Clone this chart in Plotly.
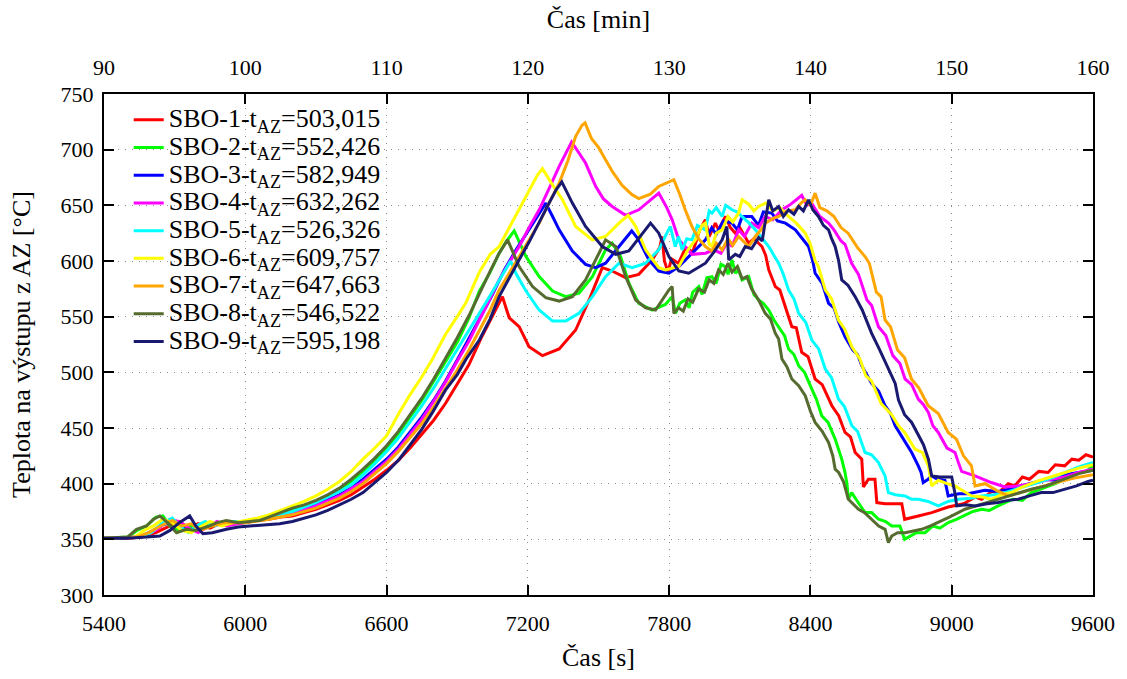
import plotly.graph_objects as go

# Outlet temperature of the core (AZ) for nine SBO scenarios
LABELS = [
    "SBO-1-t<sub>AZ</sub>=503,015",
    "SBO-2-t<sub>AZ</sub>=552,426",
    "SBO-3-t<sub>AZ</sub>=582,949",
    "SBO-4-t<sub>AZ</sub>=632,262",
    "SBO-5-t<sub>AZ</sub>=526,326",
    "SBO-6-t<sub>AZ</sub>=609,757",
    "SBO-7-t<sub>AZ</sub>=647,663",
    "SBO-8-t<sub>AZ</sub>=546,522",
    "SBO-9-t<sub>AZ</sub>=595,198",
]
COLORS = ["#ff0000", "#00ff00", "#0000ff", "#ff00ff", "#00ffff",
          "#ffff00", "#ffa500", "#556b2f", "#191970"]

SBO1_T = [5400, 5500, 5560, 5620, 5680, 5720, 5760, 5800, 5850, 5900, 5950, 6000, 6050, 6100, 6150, 6200, 6250, 6300, 6350, 6400, 6450, 6500, 6550, 6600, 6650, 6700, 6750, 6800, 6850, 6900, 6950, 7000, 7050, 7092, 7110, 7121, 7163, 7205, 7262, 7333, 7403, 7460, 7516, 7558, 7615, 7671, 7728, 7760, 7770, 7780, 7795, 7810, 7840, 7870, 7900, 7930, 7954, 7970, 7996, 8010, 8039, 8060, 8081, 8100, 8138, 8160, 8194, 8210, 8223, 8251, 8270, 8293, 8321, 8340, 8363, 8390, 8420, 8450, 8491, 8520, 8547, 8570, 8590, 8618, 8625, 8646, 8674, 8682, 8717, 8788, 8800, 8858, 8915, 8985, 9050, 9100, 9127, 9170, 9200, 9240, 9268, 9300, 9330, 9370, 9409, 9440, 9480, 9510, 9540, 9570, 9600]
SBO1_V = [351, 351, 352, 356, 362, 366, 360, 364, 360, 365, 364, 365, 367, 368, 370, 371, 374, 377, 381, 385, 390, 397, 404, 412, 421, 432, 444, 457, 472, 489, 507, 530, 551, 568, 556, 549, 541, 523, 515, 521, 538, 565, 594, 591, 585, 588, 601, 612, 622, 600, 590, 602, 598, 612, 608, 628, 637, 622, 634, 628, 640, 630, 625, 630, 616, 620, 613, 605, 592, 577, 574, 559, 541, 540, 518, 514, 494, 489, 470, 461, 446, 442, 428, 422, 397, 404, 404, 383, 382, 382, 368, 371, 374, 379, 382, 388, 386, 393, 392, 400, 398, 406, 404, 411, 410, 417, 416, 422, 421, 426, 424]

SBO2_T = [5400, 5500, 5540, 5580, 5620, 5650, 5680, 5720, 5760, 5800, 5850, 5900, 5950, 6000, 6050, 6100, 6150, 6200, 6250, 6300, 6350, 6400, 6450, 6500, 6550, 6600, 6650, 6700, 6750, 6800, 6850, 6900, 6950, 6994, 7040, 7078, 7110, 7142, 7192, 7248, 7305, 7361, 7417, 7474, 7530, 7558, 7594, 7629, 7671, 7728, 7784, 7813, 7827, 7845, 7869, 7885, 7900, 7926, 7940, 7960, 7982, 8000, 8020, 8038, 8050, 8067, 8081, 8095, 8110, 8138, 8160, 8180, 8200, 8223, 8245, 8265, 8290, 8307, 8330, 8350, 8375, 8406, 8425, 8448, 8475, 8505, 8520, 8533, 8547, 8555, 8561, 8575, 8600, 8632, 8660, 8689, 8720, 8745, 8780, 8800, 8816, 8850, 8887, 8920, 8950, 8985, 9020, 9050, 9090, 9127, 9160, 9197, 9260, 9300, 9338, 9400, 9440, 9480, 9540, 9570, 9600]
SBO2_V = [351, 352, 358, 362, 370, 371, 362, 358, 362, 360, 364, 364, 366, 365, 368, 370, 373, 376, 380, 384, 389, 395, 402, 411, 421, 432, 445, 460, 475, 492, 509, 527, 549, 573, 590, 607, 618, 627, 604, 586, 573, 568, 571, 586, 610, 616, 604, 580, 562, 556, 561, 568, 553, 562, 565, 558, 572, 577, 570, 585, 586, 580, 597, 595, 588, 601, 589, 592, 583, 586, 570, 565, 562, 556, 547, 541, 533, 521, 516, 506, 500, 485, 476, 461, 455, 440, 431, 422, 410, 400, 386, 392, 384, 374, 374, 368, 366, 362, 362, 350, 352, 356, 356, 362, 360, 365, 368, 371, 375, 377, 376, 380, 386, 385, 392, 397, 400, 404, 410, 411, 416]

SBO3_T = [5400, 5550, 5600, 5650, 5700, 5740, 5790, 5850, 5900, 6000, 6100, 6200, 6300, 6400, 6450, 6500, 6550, 6600, 6650, 6700, 6750, 6800, 6850, 6900, 6950, 7000, 7050, 7100, 7150, 7200, 7233, 7276, 7305, 7333, 7389, 7445, 7488, 7530, 7587, 7641, 7671, 7714, 7756, 7799, 7841, 7897, 7954, 7981, 8000, 8030, 8067, 8090, 8110, 8151, 8180, 8200, 8236, 8260, 8294, 8336, 8360, 8392, 8410, 8420, 8450, 8477, 8500, 8520, 8547, 8580, 8600, 8618, 8660, 8690, 8717, 8740, 8760, 8802, 8830, 8858, 8870, 8879, 8900, 8915, 8940, 8971, 8985, 9030, 9070, 9141, 9200, 9260, 9330, 9400, 9440, 9480, 9540, 9600]
SBO3_V = [351, 352, 357, 363, 366, 360, 358, 362, 364, 365, 369, 373, 381, 390, 396, 404, 413, 422, 433, 446, 460, 475, 492, 511, 530, 550, 570, 592, 610, 627, 637, 652, 640, 628, 609, 597, 594, 598, 613, 627, 619, 601, 591, 589, 595, 607, 619, 630, 624, 636, 634, 628, 640, 640, 632, 644, 643, 636, 634, 628, 622, 613, 600, 589, 580, 562, 558, 545, 532, 520, 516, 506, 490, 483, 470, 463, 452, 437, 428, 416, 410, 401, 404, 407, 404, 403, 389, 391, 391, 394, 393, 396, 400, 404, 403, 408, 410, 412]

SBO4_T = [5400, 5550, 5620, 5680, 5720, 5760, 5800, 5850, 5880, 5920, 6000, 6100, 6200, 6300, 6400, 6500, 6550, 6600, 6650, 6700, 6750, 6800, 6850, 6900, 6950, 6994, 7040, 7078, 7120, 7163, 7205, 7248, 7290, 7333, 7386, 7445, 7488, 7520, 7558, 7615, 7671, 7720, 7756, 7790, 7813, 7841, 7855, 7897, 7954, 7990, 8020, 8050, 8067, 8095, 8120, 8151, 8180, 8208, 8240, 8279, 8310, 8340, 8363, 8385, 8405, 8440, 8477, 8500, 8530, 8547, 8575, 8604, 8640, 8660, 8689, 8720, 8750, 8780, 8802, 8830, 8858, 8880, 8901, 8920, 8943, 8980, 9014, 9030, 9042, 9070, 9099, 9168, 9226, 9280, 9340, 9400, 9480, 9540, 9600]
SBO4_V = [351, 352, 358, 368, 366, 360, 356, 362, 366, 362, 365, 369, 373, 380, 389, 402, 411, 420, 431, 444, 458, 474, 491, 510, 528, 547, 566, 583, 598, 613, 630, 646, 665, 685, 707, 688, 667, 656, 649, 641, 646, 655, 661, 648, 637, 619, 616, 606, 607, 610, 607, 618, 613, 628, 622, 634, 630, 640, 637, 646, 650, 655, 659, 650, 652, 640, 634, 628, 618, 615, 598, 588, 565, 560, 541, 533, 515, 508, 494, 489, 476, 471, 464, 452, 446, 432, 428, 418, 411, 409, 407, 401, 397, 398, 400, 403, 406, 410, 413]

SBO5_T = [5400, 5550, 5600, 5650, 5690, 5720, 5760, 5790, 5830, 5870, 5920, 6000, 6100, 6200, 6300, 6400, 6450, 6500, 6550, 6600, 6650, 6700, 6750, 6800, 6850, 6900, 6950, 6994, 7040, 7078, 7110, 7127, 7149, 7192, 7248, 7305, 7361, 7417, 7474, 7530, 7587, 7643, 7700, 7756, 7790, 7805, 7826, 7840, 7855, 7875, 7897, 7920, 7954, 7970, 7982, 8000, 8025, 8040, 8067, 8090, 8109, 8140, 8166, 8195, 8223, 8245, 8265, 8285, 8307, 8330, 8350, 8380, 8406, 8435, 8463, 8490, 8519, 8545, 8576, 8600, 8632, 8660, 8689, 8705, 8717, 8731, 8760, 8802, 8830, 8858, 8900, 8943, 8985, 9028, 9080, 9127, 9180, 9226, 9300, 9350, 9409, 9480, 9540, 9600]
SBO5_V = [351, 352, 356, 365, 369, 362, 356, 362, 366, 362, 366, 366, 370, 375, 383, 393, 399, 408, 418, 429, 441, 455, 470, 486, 503, 521, 538, 553, 569, 583, 595, 600, 589, 573, 556, 546, 546, 553, 568, 586, 598, 594, 598, 610, 625, 631, 613, 622, 610, 620, 619, 632, 628, 645, 643, 648, 640, 650, 646, 644, 640, 634, 628, 620, 613, 605, 598, 588, 574, 566, 553, 545, 529, 521, 503, 495, 476, 469, 452, 447, 428, 426, 419, 412, 407, 392, 390, 389, 386, 386, 384, 380, 384, 386, 387, 389, 390, 392, 397, 400, 404, 410, 415, 419]

SBO6_T = [5400, 5530, 5570, 5610, 5650, 5690, 5730, 5770, 5800, 5850, 5900, 5950, 6000, 6050, 6100, 6150, 6200, 6250, 6300, 6350, 6400, 6450, 6500, 6550, 6600, 6654, 6700, 6750, 6795, 6850, 6900, 6938, 6994, 7040, 7078, 7120, 7163, 7205, 7240, 7262, 7300, 7347, 7403, 7474, 7530, 7587, 7626, 7658, 7700, 7756, 7784, 7841, 7880, 7912, 7940, 7954, 7970, 7982, 8000, 8025, 8050, 8070, 8095, 8110, 8138, 8160, 8180, 8210, 8240, 8270, 8307, 8340, 8378, 8400, 8420, 8434, 8463, 8490, 8519, 8545, 8576, 8610, 8635, 8660, 8700, 8745, 8774, 8800, 8844, 8875, 8901, 8915, 8943, 8980, 9014, 9050, 9084, 9130, 9168, 9210, 9253, 9300, 9360, 9420, 9480, 9540, 9600]
SBO6_V = [351, 352, 358, 362, 368, 365, 358, 356, 360, 366, 362, 365, 367, 369, 372, 376, 380, 384, 389, 395, 402, 411, 422, 432, 443, 464, 480, 496, 512, 534, 550, 563, 590, 606, 613, 630, 646, 663, 677, 683, 670, 655, 631, 619, 622, 634, 641, 631, 610, 594, 592, 595, 610, 619, 632, 634, 615, 613, 625, 628, 640, 635, 643, 655, 651, 645, 649, 652, 645, 648, 640, 634, 625, 615, 600, 595, 574, 566, 547, 539, 523, 512, 497, 492, 472, 462, 452, 446, 431, 428, 416, 398, 403, 400, 398, 393, 389, 388, 386, 390, 392, 397, 402, 406, 410, 414, 417]

SBO7_T = [5400, 5540, 5590, 5640, 5690, 5730, 5770, 5810, 5860, 5910, 6000, 6100, 6200, 6300, 6400, 6450, 6500, 6550, 6600, 6650, 6700, 6750, 6800, 6850, 6900, 6950, 6994, 7040, 7078, 7120, 7163, 7205, 7248, 7290, 7333, 7370, 7403, 7430, 7443, 7470, 7500, 7530, 7560, 7600, 7640, 7671, 7720, 7756, 7790, 7820, 7845, 7870, 7897, 7925, 7954, 7982, 8000, 8025, 8050, 8070, 8095, 8120, 8138, 8166, 8190, 8208, 8240, 8265, 8300, 8336, 8360, 8378, 8400, 8420, 8440, 8470, 8500, 8530, 8560, 8600, 8632, 8650, 8680, 8700, 8717, 8740, 8770, 8800, 8829, 8860, 8900, 8943, 8985, 9020, 9050, 9084, 9095, 9099, 9142, 9190, 9240, 9290, 9350, 9400, 9460, 9520, 9579, 9600]
SBO7_V = [351, 352, 356, 362, 367, 362, 364, 358, 362, 365, 365, 368, 372, 378, 387, 393, 400, 409, 418, 429, 441, 454, 469, 485, 502, 520, 538, 556, 574, 589, 604, 619, 634, 652, 670, 690, 712, 722, 724, 710, 702, 691, 680, 668, 660, 656, 660, 667, 670, 673, 660, 645, 631, 620, 613, 609, 616, 610, 620, 614, 622, 617, 613, 622, 628, 634, 638, 640, 645, 646, 652, 655, 650, 661, 648, 645, 640, 630, 625, 612, 604, 598, 572, 568, 547, 541, 520, 513, 494, 486, 470, 463, 446, 440, 425, 416, 400, 398, 400, 394, 389, 392, 396, 399, 402, 405, 407, 408]

SBO8_T = [5400, 5500, 5538, 5580, 5610, 5637, 5670, 5708, 5750, 5790, 5849, 5880, 5920, 5970, 6020, 6061, 6100, 6150, 6200, 6250, 6300, 6350, 6400, 6450, 6500, 6550, 6600, 6650, 6700, 6750, 6800, 6850, 6900, 6950, 6994, 7040, 7078, 7114, 7163, 7220, 7276, 7333, 7389, 7445, 7502, 7530, 7573, 7615, 7658, 7700, 7742, 7799, 7813, 7820, 7840, 7860, 7880, 7900, 7925, 7950, 7970, 7990, 8010, 8030, 8050, 8067, 8090, 8110, 8130, 8150, 8180, 8208, 8230, 8251, 8265, 8279, 8300, 8321, 8350, 8378, 8400, 8420, 8450, 8477, 8495, 8505, 8520, 8540, 8561, 8580, 8604, 8630, 8660, 8690, 8717, 8731, 8745, 8770, 8802, 8840, 8872, 8910, 8943, 8990, 9056, 9120, 9197, 9260, 9338, 9400, 9480, 9540, 9600]
SBO8_V = [351, 352, 359, 362, 368, 371, 365, 356, 359, 358, 362, 365, 367, 365, 366, 367, 370, 374, 378, 381, 385, 390, 396, 404, 413, 423, 434, 447, 462, 477, 494, 512, 531, 551, 571, 591, 607, 619, 595, 577, 567, 564, 568, 583, 607, 619, 613, 586, 565, 558, 556, 574, 577, 553, 558, 555, 566, 563, 575, 572, 583, 580, 592, 588, 598, 590, 595, 584, 586, 575, 565, 553, 548, 535, 530, 512, 505, 494, 488, 479, 465, 455, 447, 437, 425, 413, 410, 402, 386, 382, 377, 374, 368, 362, 359, 347, 353, 356, 356, 358, 359, 362, 365, 370, 377, 381, 386, 390, 395, 398, 404, 409, 412]

SBO9_T = [5400, 5500, 5580, 5637, 5680, 5720, 5764, 5790, 5820, 5860, 5920, 5970, 6019, 6080, 6146, 6200, 6231, 6300, 6350, 6400, 6450, 6500, 6550, 6600, 6654, 6700, 6750, 6795, 6850, 6900, 6938, 6994, 7040, 7078, 7120, 7163, 7205, 7248, 7290, 7320, 7344, 7389, 7445, 7516, 7573, 7629, 7686, 7721, 7756, 7799, 7841, 7883, 7954, 7990, 8025, 8045, 8053, 8081, 8100, 8123, 8150, 8180, 8195, 8208, 8223, 8240, 8265, 8285, 8307, 8330, 8350, 8370, 8392, 8410, 8434, 8455, 8477, 8490, 8505, 8520, 8533, 8560, 8590, 8620, 8660, 8690, 8731, 8760, 8774, 8800, 8830, 8858, 8880, 8901, 8915, 8950, 9000, 9015, 9021, 9060, 9099, 9150, 9197, 9240, 9282, 9330, 9380, 9430, 9480, 9530, 9579, 9600]
SBO9_V = [351, 351, 352, 353, 358, 365, 371, 362, 355, 356, 359, 361, 362, 363, 364, 366, 368, 372, 376, 381, 386, 392, 401, 410, 422, 435, 449, 464, 484, 498, 512, 529, 548, 568, 585, 601, 617, 634, 652, 664, 671, 652, 631, 613, 606, 609, 625, 634, 625, 604, 591, 589, 598, 608, 619, 631, 601, 606, 604, 613, 611, 621, 618, 637, 655, 645, 649, 640, 646, 642, 649, 645, 655, 646, 640, 632, 628, 620, 613, 600, 583, 578, 568, 556, 535, 522, 503, 490, 475, 462, 455, 443, 435, 422, 407, 406, 406, 390, 380, 381, 380, 382, 383, 385, 386, 389, 392, 392, 395, 398, 402, 403]

SERIES_T = [SBO1_T, SBO2_T, SBO3_T, SBO4_T, SBO5_T, SBO6_T, SBO7_T, SBO8_T, SBO9_T]
SERIES_V = [SBO1_V, SBO2_V, SBO3_V, SBO4_V, SBO5_V, SBO6_V, SBO7_V, SBO8_V, SBO9_V]

X_TICKS = [5400, 6000, 6600, 7200, 7800, 8400, 9000, 9600]
MIN_TICKS = [90, 100, 110, 120, 130, 140, 150, 160]
Y_TICKS = [300, 350, 400, 450, 500, 550, 600, 650, 700, 750]

SERIF = "Liberation Serif, Times New Roman, DejaVu Serif, serif"

fig = go.Figure()
for t, v, name, color in zip(SERIES_T, SERIES_V, LABELS, COLORS):
    # larger entry text inside a compact legend row
    entry = '<span style="font-size:26px">' + name + '</span>'
    fig.add_trace(go.Scatter(x=t, y=v, mode="lines", name=entry,
                             line=dict(color=color, width=3)))

# helper trace so the minute axis on top is drawn
fig.add_trace(go.Scatter(x=[MIN_TICKS[0], MIN_TICKS[-1]], y=[None, None],
                         xaxis="x2", mode="lines", showlegend=False,
                         hoverinfo="skip"))

grid = dict(showgrid=True, gridcolor="#8a8a8a", gridwidth=1, griddash="1px,6px")
frame = dict(ticks="inside", ticklen=10, tickwidth=1.5, tickcolor="black",
             tickfont=dict(family=SERIF, size=22, color="black"), zeroline=False)

fig.update_layout(
    width=1127, height=679,
    margin=dict(l=104, r=32, t=94, b=83),
    paper_bgcolor="white", plot_bgcolor="white",
    font=dict(family=SERIF, size=22, color="black"),
    showlegend=True,
    legend=dict(x=0.025, y=0.986, xanchor="left", yanchor="top",
                bgcolor="rgba(0,0,0,0)", borderwidth=0,
                font=dict(family=SERIF, size=19, color="black"),
                tracegroupgap=0),
    xaxis=dict(range=[5400, 9600], tickvals=X_TICKS, showline=True, mirror=True,
               linecolor="black", linewidth=2, ticklabelstandoff=8,
               title=dict(text="Čas [s]", font=dict(family=SERIF, size=26), standoff=12),
               **grid, **frame),
    xaxis2=dict(range=[90, 160], tickvals=MIN_TICKS, overlaying="x", side="top",
                showgrid=False, anchor="y", showline=False, ticklabelstandoff=14,
                title=dict(text="Čas [min]", font=dict(family=SERIF, size=26), standoff=18),
                **frame),
    yaxis=dict(range=[300, 750], tickvals=Y_TICKS, showline=True, mirror="ticks",
               linecolor="black", linewidth=2, ticklabelstandoff=4,
               title=dict(text="Teplota na výstupu z AZ [°C]", font=dict(family=SERIF, size=26), standoff=22),
               **grid, **frame),
)

fig.write_html("out.html")
